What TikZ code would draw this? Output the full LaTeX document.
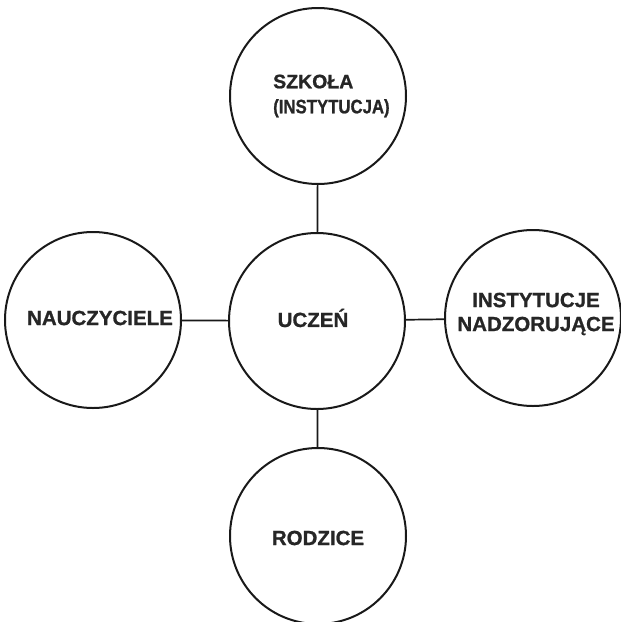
\documentclass[tikz,border=0pt]{standalone}
\usepackage{graphicx}
\usepackage{fontspec}
\setmainfont{Liberation Sans}[BoldFeatures={FakeBold=1}]
\begin{document}
\begin{tikzpicture}[x=1pt,y=-1pt,
  ring/.style={draw=black!90, line width=2pt, circle, minimum size=176pt, inner sep=0pt},
  lbl/.style={font=\fontsize{20.5pt}{24pt}\selectfont\bfseries, text=black!85, inner sep=0pt},
  link/.style={draw=black!90, line width=1.7pt}]
\useasboundingbox (0,0) rectangle (621,622);
\node[ring] (top) at (318,96) {};
\node[ring] (mid) at (317,321) {};
\node[ring] (lft) at (93,320) {};
\node[ring] (rgt) at (533,318) {};
\node[ring] (bot) at (318,536) {};
\node[lbl, align=left, anchor=west, font=\fontsize{19.5pt}{25pt}\selectfont\bfseries] (ttop) at (273,96) {SZKOŁA\\\scalebox{0.86}[1]{(INSTYTUCJA)}};
\node[lbl] (tmid) at (313,318) {UCZEŃ};
\node[lbl] (tlft) at (100,318) {NAUCZYCIELE};
\node[lbl, align=center] (trgt) at (536,314) {INSTYTUCJE\\NADZORUJĄCE};
\node[lbl] (tbot) at (318,538) {RODZICE};
\draw[link] (top) -- (mid);
\draw[link] (mid) -- (bot);
\draw[link] (lft) -- (mid);
\draw[link] (mid) -- (rgt);
\end{tikzpicture}
\end{document}
